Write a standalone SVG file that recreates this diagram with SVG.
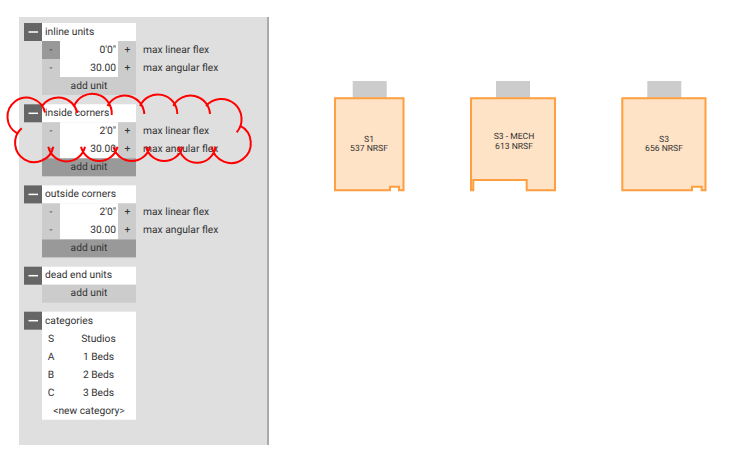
<svg xmlns="http://www.w3.org/2000/svg" width="738" height="465" viewBox="0 0 738 465">
<style>
text{font-family:Roboto,"Liberation Sans",sans-serif;font-size:10.250px;fill:#333;text-rendering:geometricPrecision}
.m{text-anchor:middle}.e{text-anchor:end}
.d{fill:#666}.w{fill:#fff}.l{fill:#ccc}.h{fill:#999}
.dash{stroke:#fff;stroke-width:1.500}
.room{fill:#ffe3c6;stroke:#ff9f40;stroke-width:2}
.cap{fill:#ccc}
.rt{font-size:8.600px;text-anchor:middle}
.cloud{fill:none;stroke:#f00;stroke-width:2}
</style>
<rect x="0" y="0" width="738" height="465" fill="#fff"/>
<g id="panel">
<rect x="19" y="17" width="248" height="428" fill="#dfdfdf"/>
<rect x="267" y="17" width="2" height="428" fill="#aaa"/>
</g>
<g id="inline-units">
<rect class="d" x="24" y="23" width="18" height="18"/><path class="dash" d="M28.500 32H38"/>
<rect class="w" x="42" y="23" width="94" height="18"/><text x="45" y="34.800">inline units</text>
<rect class="h" x="42" y="41" width="18" height="18"/><text class="m" x="51" y="52.800">-</text>
<rect class="w" x="60" y="41" width="58" height="36"/>
<rect class="l" x="118" y="41" width="18" height="36"/>
<rect class="l" x="42" y="59" width="18" height="18"/>
<text class="e" x="116" y="52.800">0'0"</text><text class="m" x="127.500" y="52.800">+</text><text x="143" y="52.800">max linear flex</text>
<text class="m" x="51" y="70.800">-</text>
<text class="e" x="116" y="70.800">30.00</text><text class="m" x="127.500" y="70.800">+</text><text x="143" y="70.800">max angular flex</text>
<rect class="l" x="42" y="77" width="94" height="18"/><text class="m" x="89" y="88.800">add unit</text>
</g>
<g id="inside-corners" transform="translate(0 .3)">
<rect class="d" x="24" y="104" width="18" height="18"/><path class="dash" d="M28.500 113H38"/>
<rect class="w" x="42" y="104" width="94" height="18"/><text x="45" y="115.800">inside corners</text>
<rect class="l" x="42" y="122" width="18" height="36"/><text class="m" x="51" y="133.800">-</text>
<rect class="w" x="60" y="122" width="58" height="36"/>
<rect class="l" x="118" y="122" width="18" height="36"/>
<text class="e" x="116" y="133.800">2'0"</text><text class="m" x="127.500" y="133.800">+</text><text x="143" y="133.800">max linear flex</text>
<text class="m" x="51" y="151.800">-</text>
<text class="e" x="116" y="151.800">30.00</text><text class="m" x="127.500" y="151.800">+</text><text x="143" y="151.800">max angular flex</text>
<rect class="h" x="42" y="158" width="94" height="18"/><text class="m" x="89" y="169.800">add unit</text>
</g>
<g id="outside-corners" transform="translate(0 .4)">
<rect class="d" x="24" y="185" width="18" height="18"/><path class="dash" d="M28.500 194H38"/>
<rect class="w" x="42" y="185" width="94" height="18"/><text x="45" y="196.800">outside corners</text>
<rect class="l" x="42" y="203" width="18" height="36"/><text class="m" x="51" y="214.800">-</text>
<rect class="w" x="60" y="203" width="58" height="36"/>
<rect class="l" x="118" y="203" width="18" height="36"/>
<text class="e" x="116" y="214.800">2'0"</text><text class="m" x="127.500" y="214.800">+</text><text x="143" y="214.800">max linear flex</text>
<text class="m" x="51" y="232.800">-</text>
<text class="e" x="116" y="232.800">30.00</text><text class="m" x="127.500" y="232.800">+</text><text x="143" y="232.800">max angular flex</text>
<rect class="h" x="42" y="239" width="94" height="18"/><text class="m" x="89" y="250.800">add unit</text>
</g>
<g id="dead-end-units" transform="translate(0 .7)">
<rect class="d" x="24" y="266" width="18" height="18"/><path class="dash" d="M28.500 275H38"/>
<rect class="w" x="42" y="266" width="94" height="18"/><text x="45" y="277.800">dead end units</text>
<rect class="l" x="42" y="284" width="94" height="18"/><text class="m" x="89" y="295.800">add unit</text>
</g>
<g id="categories" transform="translate(0 .7)">
<rect class="d" x="24" y="311" width="18" height="18"/><path class="dash" d="M28.500 320H38"/>
<rect class="w" x="42" y="311" width="94" height="108"/><text x="45" y="323">categories</text>
<text class="m" x="51" y="341">S</text><text class="m" x="98.500" y="341">Studios</text>
<text class="m" x="51" y="359">A</text><text class="m" x="98.500" y="359">1 Beds</text>
<text class="m" x="51" y="377">B</text><text class="m" x="98.500" y="377">2 Beds</text>
<text class="m" x="51" y="395">C</text><text class="m" x="98.500" y="395">3 Beds</text>
<text class="m" x="89" y="413">&lt;new category&gt;</text>
</g>
<g id="cloud">
<path class="cloud" d="M17.300 133.300A19 19 0 1 1 45 112.500M41.700 106.500A19.500 19.500 0 0 1 77.300 113M74 106.500A19.500 19.500 0 0 1 111.700 115M107.500 106A19.500 19.500 0 0 1 144.300 114M140 106A19.500 19.500 0 0 1 177.300 114M173.300 106A19.500 19.500 0 0 1 210 114M206 106A20 20 0 1 1 236.700 132.300"/>
<path class="cloud" d="M21.700 128.300A19.300 19.300 0 1 0 53.300 146.700M48.300 146.700A18.800 18.800 0 0 0 85 146.700M81 146.700A18.800 18.800 0 0 0 117.500 146.700M113.500 146.700A18.800 18.800 0 0 0 150 146.700M146 146.700A18.800 18.800 0 0 0 182.500 146.700M178.500 146.700A18.800 18.800 0 0 0 215.700 146.700M211.700 146.700A19.700 19.700 0 1 0 240 125.700"/>
</g>
<g id="unit-s1">
<rect class="cap" x="352.700" y="81" width="34" height="17"/>
<path class="room" d="M335 98.300H403.500V190.300H399V186.700H390V190.300H335Z"/>
<text class="rt" x="369" y="142">S1</text><text class="rt" x="369" y="151.300">537 NRSF</text>
</g>
<g id="unit-s3-mech">
<rect class="cap" x="496" y="81" width="34" height="17"/>
<path class="room" d="M471 98.300H555V190.300H526.700V180H473.300V190.300H471Z"/>
<text class="rt" x="514" y="139.300">S3 - MECH</text><text class="rt" x="514" y="148.700">613 NRSF</text>
</g>
<g id="unit-s3">
<rect class="cap" x="647.300" y="81" width="34" height="17"/>
<path class="room" d="M622.300 98.300H705.500V190.300H701.700V186.700H692V190.300H622.300Z"/>
<text class="rt" x="664" y="142">S3</text><text class="rt" x="664" y="151.300">656 NRSF</text>
</g>
</svg>
